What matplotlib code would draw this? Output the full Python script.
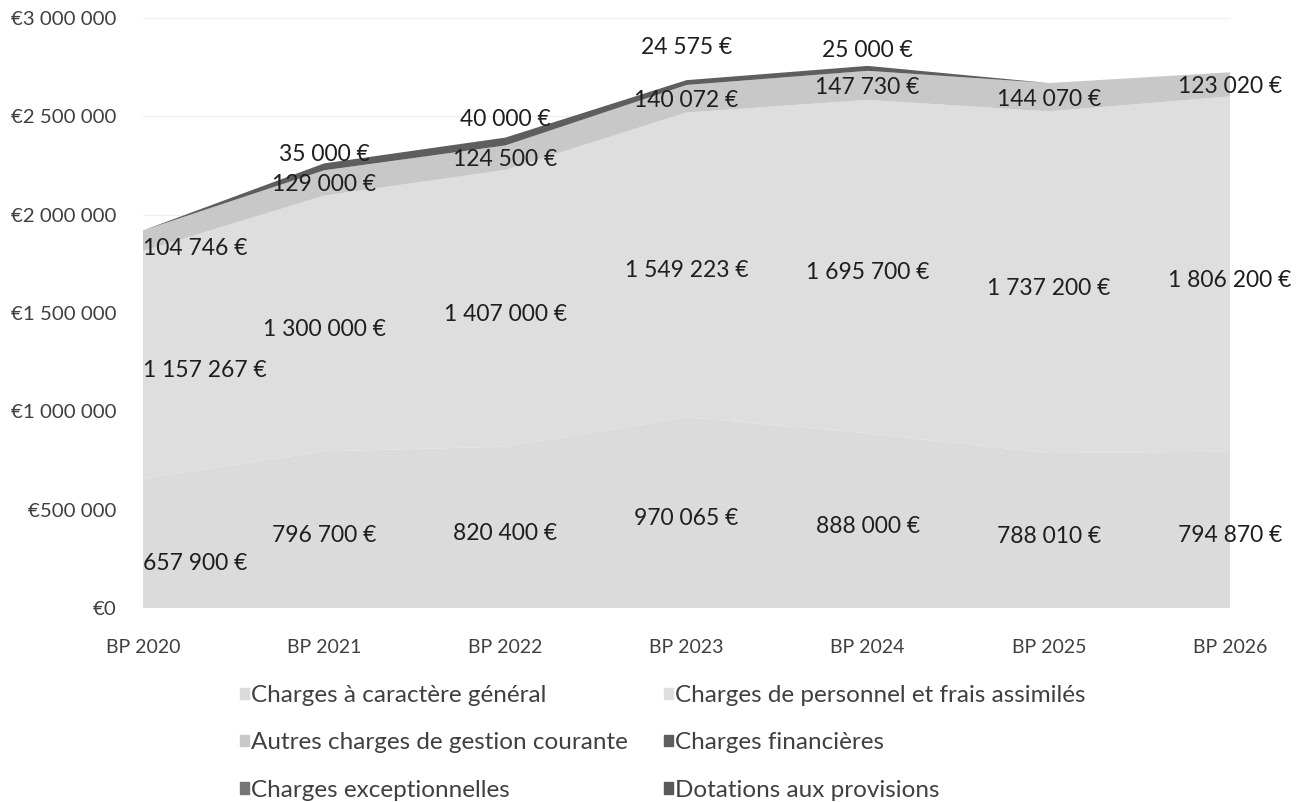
import matplotlib.pyplot as plt
from matplotlib.patches import Patch
from matplotlib.ticker import FuncFormatter

plt.rcParams['font.family'] = ['Lato', 'DejaVu Sans']

# données
years = ['BP 2020', 'BP 2021', 'BP 2022', 'BP 2023', 'BP 2024', 'BP 2025', 'BP 2026']
generales = [657900, 796700, 820400, 970065, 888000, 788010, 794870]
personnel = [1157267, 1300000, 1407000, 1549223, 1695700, 1737200, 1806200]
autres = [104746, 129000, 124500, 140072, 147730, 144070, 123020]
financieres = [0, 35000, 40000, 24575, 25000, 0, 0]
exceptionnelles = [0, 0, 0, 0, 0, 0, 0]
dotations = [0, 0, 0, 0, 0, 0, 0]

names = ['Charges à caractère général', 'Charges de personnel et frais assimilés',
         'Autres charges de gestion courante', 'Charges financières',
         'Charges exceptionnelles', 'Dotations aux provisions']
colors = ['#dbdbdb', '#dedede', '#c8c8c8', '#5e5e5e', '#767676', '#595959']

# décalage vertical (px) des étiquettes "charges financières"
fin_dy = [0, 11, 20, 35, 17, 0, 0]


def euro(v):
    return f'{v:,.0f}'.replace(',', ' ') + ' €'


fig = plt.figure(figsize=(13.12, 8.02), dpi=100)
ax = fig.add_axes([143 / 1312, 1 - 608 / 802, (1230 - 143) / 1312, 590 / 802])

x = list(range(len(years)))
series = [generales, personnel, autres, financieres, exceptionnelles, dotations]
ax.stackplot(x, *series, colors=colors, linewidth=0, zorder=2)

ax.set_xlim(0, 6)
ax.set_ylim(0, 3000000)
ax.set_yticks(range(0, 3000001, 500000))
ax.yaxis.set_major_formatter(FuncFormatter(lambda v, p: '€' + f'{v:,.0f}'.replace(',', ' ')))
ax.set_xticks(x)
ax.set_xticklabels(years)
ax.tick_params(length=0, labelcolor='#404040')
ax.tick_params(axis='x', pad=22, labelsize=14)
ax.tick_params(axis='y', pad=19, labelsize=14.7)
ax.grid(axis='y', color='#f0f0f0', lw=1, zorder=0)
for s in ax.spines.values():
    s.set_visible(False)

# étiquettes
def put(i, y, txt, dy=-6):
    ha = 'left' if i == 0 else 'center'
    ax.annotate(txt, (i, y), xytext=(0, dy * 0.72), textcoords='offset points',
                ha=ha, va='center', fontsize=16.5, color='#1e1e1e', zorder=5)

for i in x:
    b = 0
    for k, s in enumerate(series[:3]):
        dy = -6 if k < 2 else -2
        if i == 0 and k == 0:
            dy = -20
        if i == 0 and k == 2:
            dy = -8
        put(i, b + s[i] / 2, euro(s[i]), dy=dy)
        b += s[i]
    if financieres[i] > 0:
        put(i, b + financieres[i], euro(financieres[i]), dy=fin_dy[i] - 2)

# légende
handles = [Patch(color=c) for c in colors]
order = [0, 2, 4, 1, 3, 5]
fig.legend([handles[j] for j in order], [names[j] for j in order],
           loc='upper left', bbox_to_anchor=(228 / 1312, 1 - 673 / 802),
           ncol=2, frameon=False, fontsize=17.5, labelcolor='#404040',
           handlelength=0.35, handleheight=0.35, handletextpad=0.1,
           labelspacing=1.08, columnspacing=1.5, borderpad=0)

fig.savefig('out.png', dpi=100)
